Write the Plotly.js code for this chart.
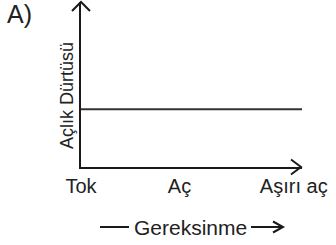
<!DOCTYPE html>
<html>
<head>
<meta charset="utf-8">
<script src="https://cdn.plot.ly/plotly-3.0.1.min.js"></script>
<style>html,body{margin:0;padding:0;background:#fff;}#chart{width:336px;height:245px;}</style>
</head>
<body>
<div id="chart"></div>
<script>
// Data
const tickLabels = ["Tok", "Aç", "Aşırı aç"];
const tickPositions = [0, 1, 2.16];
const lineX = [0, 2.244];
const lineY = [3.5, 3.5];
const yTitle = "Açlık Dürtüsü";
const xTitle = "Gereksinme";
const panelLabel = "A)";

// Layout geometry (pixels)
const W = 336, H = 245, L = 81, R = 302, T = 2, B = 167;
function px(x) { return (x - L) / (R - L); }
function py(y) { return (B - y) / (B - T); }
function path(pts) {
  return pts.map((p, i) => (i ? "L" : "M") + " " + px(p[0]) + " " + py(p[1])).join(" ");
}
const ink = "#1a1a1a";
const font = "Liberation Sans, Arial, sans-serif";

const trace = {
  x: lineX, y: lineY, type: "scatter", mode: "lines",
  line: { color: "#333", width: 2 }, hoverinfo: "skip", showlegend: false
};

const lineShape = (d, w) => ({ type: "path", path: d, xref: "paper", yref: "paper",
  line: { color: ink, width: w || 2 } });

const layout = {
  width: W, height: H,
  margin: { l: L, r: W - R, t: T, b: H - B, pad: 0 },
  paper_bgcolor: "#fff", plot_bgcolor: "#fff",
  showlegend: false,
  xaxis: {
    range: [0, 2.244], showgrid: false, zeroline: false,
    showline: true, linecolor: ink, linewidth: 2,
    tickvals: tickPositions, ticktext: tickLabels, ticks: "",
    tickfont: { family: font, size: 20, color: "#222" },
    fixedrange: true
  },
  yaxis: {
    range: [0, 10], showgrid: false, zeroline: false,
    showline: true, linecolor: ink, linewidth: 2,
    showticklabels: false, ticks: "", fixedrange: true
  },
  shapes: [
    lineShape(path([[72, 11], [81, 2], [90, 11]]), 2),
    lineShape(path([[291, 159.5], [301, 167], [291, 174.5]]), 2),
    lineShape(path([[100, 227], [129, 227]]), 2),
    lineShape(path([[251, 227], [283, 227]]), 2),
    lineShape(path([[273, 221.5], [283, 227], [273, 232.5]]), 2)
  ],
  annotations: [
    { text: panelLabel, xref: "paper", yref: "paper", x: px(20), y: py(14),
      xanchor: "center", yanchor: "middle", showarrow: false,
      font: { family: font, size: 25, color: "#222" } },
    { text: yTitle, xref: "paper", yref: "paper", x: px(67), y: py(96),
      xanchor: "center", yanchor: "middle", textangle: -90, showarrow: false,
      font: { family: font, size: 18, color: "#222" } },
    { text: xTitle, xref: "paper", yref: "paper", x: px(190), y: py(227),
      xanchor: "center", yanchor: "middle", showarrow: false,
      font: { family: font, size: 21, color: "#222" } }
  ]
};

Plotly.newPlot("chart", [trace], layout, { staticPlot: true, displayModeBar: false });
</script>
</body>
</html>
